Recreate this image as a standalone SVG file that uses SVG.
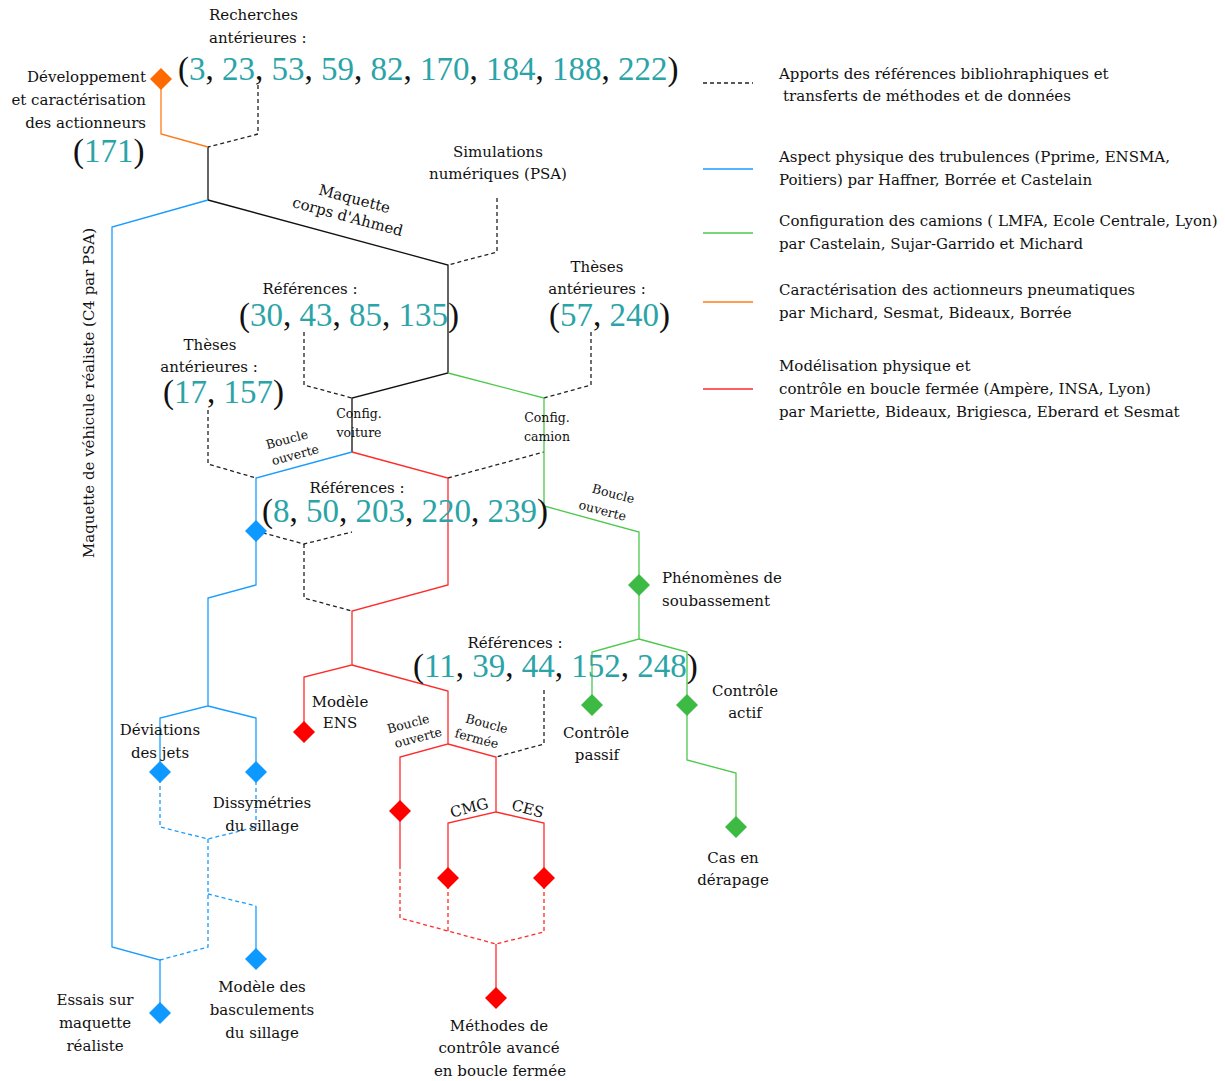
<svg xmlns="http://www.w3.org/2000/svg" width="1225" height="1081" viewBox="0 0 1225 1081">
<style>
.t{font-family:"DejaVu Serif","Liberation Serif",serif;font-size:15px;fill:#111}
.c{text-anchor:middle}
.s{font-size:12.5px}
.n{font-family:"Liberation Serif",serif;font-size:33px;fill:#111}
.n tspan.d{fill:#2ba4a8}
.k{fill:none;stroke:#111;stroke-width:1.3}
.kd{fill:none;stroke:#222;stroke-width:1.3;stroke-dasharray:4 3}
.b{fill:none;stroke:#1a9cff;stroke-width:1.3}
.bd{fill:none;stroke:#1a9cff;stroke-width:1.3;stroke-dasharray:4 3}
.g{fill:none;stroke:#4cc94c;stroke-width:1.3}
.r{fill:none;stroke:#ff2a2a;stroke-width:1.3}
.rd{fill:none;stroke:#ff2a2a;stroke-width:1.3;stroke-dasharray:4 3}
.o{fill:none;stroke:#ff7a1a;stroke-width:1.3}
.dB{fill:#0d99ff}.dG{fill:#3cba44}.dR{fill:#ff0000}.dO{fill:#ff6a00}
</style>
<defs>
<path id="dia" d="M0,-11 L11,0 L0,11 L-11,0 Z"/>
</defs>
<rect width="1225" height="1081" fill="#fff"/>

<g id="connectors">
<path class="k" d="M208,147 V200"/>
<path class="k" d="M208,200 L448,265 V373 L352,398 V452"/>
<path class="o" d="M161,79 V134 L208,147"/>
<path class="b" d="M208,200 L112,227 V947 L160,960 V1013"/>
<path class="b" d="M352,452 L256,478 V585 L208,598 V706 L160,718 V772"/>
<path class="b" d="M208,706 L256,718 V772"/>
<path class="b" d="M256,906 V959"/>
<path class="bd" d="M160,772 V827 L208,839 L256,827 V772"/>
<path class="bd" d="M208,839 V947 L160,960"/>
<path class="bd" d="M208,894 L256,906"/>
<path class="kd" d="M258,85 V134 L208,147"/>
<path class="kd" d="M497,198 V252 L448,265"/>
<path class="kd" d="M304,332 V385 L352,398"/>
<path class="kd" d="M591,332 V385 L544,398"/>
<path class="kd" d="M208,410 V464 L256,478"/>
<path class="kd" d="M448,478 L544,452"/>
<path class="kd" d="M256,531 L304,544 L352,532"/>
<path class="kd" d="M304,544 V598 L352,611"/>
<path class="kd" d="M544,690 V744 L496,757"/>
<path class="g" d="M448,373 L544,398 V506 L639,532 V585"/>
<path class="g" d="M639,585 V639 L592,652 V705"/>
<path class="g" d="M639,639 L687,652 V760 L736,773 V827"/>
<path class="r" d="M352,452 L448,478 V585 L352,611 V665 L304,677 V732"/>
<path class="r" d="M352,665 L448,691 V744 L400,757 V865"/>
<path class="r" d="M448,744 L496,757 V812 L448,823 V878"/>
<path class="r" d="M496,812 L544,823 V878"/>
<path class="r" d="M496,944 V998"/>
<path class="rd" d="M400,865 V918 L496,944 L544,932 V878"/>
<path class="rd" d="M448,878 V931"/>
</g>

<g id="edge-labels">
<g transform="rotate(15 350 208)"><text class="t c" x="352" y="203" font-size="15.5">Maquette</text><text class="t c" x="350" y="222" font-size="15.5">corps d'Ahmed</text></g>
<text class="t c s" x="359" y="418" font-size="13">Config.</text><text class="t c s" x="359" y="437" font-size="13">voiture</text>
<text class="t c s" x="547" y="422" font-size="13">Config.</text><text class="t c s" x="547" y="441" font-size="13">camion</text>
<g transform="rotate(-15 291 447)"><text class="t c s" x="289" y="443">Boucle</text><text class="t c s" x="293" y="460">ouverte</text></g>
<g transform="rotate(15 608 502)"><text class="t c s" x="611" y="497">Boucle</text><text class="t c s" x="605" y="516">ouverte</text></g>
<g transform="rotate(-15 413 730)"><text class="t c s" x="410" y="727">Boucle</text><text class="t c s" x="416" y="743">ouverte</text></g>
<g transform="rotate(15 482 730)"><text class="t c s" x="485" y="727">Boucle</text><text class="t c s" x="479" y="744">fermée</text></g>
<text class="t c" x="469" y="813" font-size="16" transform="rotate(-15 469 807)">CMG</text>
<text class="t c" x="528" y="814" font-size="16" transform="rotate(15 528 808)">CES</text>
</g>

<g id="n-recherches">
<text class="t" x="209" y="20">Recherches</text>
<text class="t" x="209" y="43">antérieures :</text>
<text class="n" x="178" y="80">(<tspan class="d">3</tspan>, <tspan class="d">23</tspan>, <tspan class="d">53</tspan>, <tspan class="d">59</tspan>, <tspan class="d">82</tspan>, <tspan class="d">170</tspan>, <tspan class="d">184</tspan>, <tspan class="d">188</tspan>, <tspan class="d">222</tspan>)</text>
</g>
<g id="n-actionneurs">
<use href="#dia" x="161" y="79" class="dO"/>
<text class="t" x="146" y="82" text-anchor="end">Développement</text>
<text class="t" x="146" y="105" text-anchor="end">et caractérisation</text>
<text class="t" x="146" y="128" text-anchor="end">des actionneurs</text>
<text class="n" x="73" y="162">(<tspan class="d">171</tspan>)</text>
</g>
<g id="n-simulations">
<text class="t c" x="498" y="157">Simulations</text>
<text class="t c" x="498" y="179">numériques (PSA)</text>
</g>
<g id="n-maquette-vehicule">
<text class="t c" x="0" y="0" transform="translate(94 393) rotate(-90)" textLength="330" lengthAdjust="spacingAndGlyphs">Maquette de véhicule réaliste (C4 par PSA)</text>
</g>
<g id="n-ref1">
<text class="t c" x="310" y="294">Références :</text>
<text class="n" x="239" y="326">(<tspan class="d">30</tspan>, <tspan class="d">43</tspan>, <tspan class="d">85</tspan>, <tspan class="d">135</tspan>)</text>
</g>
<g id="n-theses2">
<text class="t c" x="597" y="272">Thèses</text>
<text class="t c" x="597" y="294">antérieures :</text>
<text class="n" x="549" y="326">(<tspan class="d">57</tspan>, <tspan class="d">240</tspan>)</text>
</g>
<g id="n-theses1">
<text class="t c" x="210" y="350">Thèses</text>
<text class="t c" x="209" y="372">antérieures :</text>
<text class="n" x="163" y="403">(<tspan class="d">17</tspan>, <tspan class="d">157</tspan>)</text>
</g>
<g id="n-ref2">
<text class="t c" x="357" y="493">Références :</text>
<text class="n" x="262" y="522">(<tspan class="d">8</tspan>, <tspan class="d">50</tspan>, <tspan class="d">203</tspan>, <tspan class="d">220</tspan>, <tspan class="d">239</tspan>)</text>
</g>
<g id="n-ref3">
<text class="t c" x="515" y="648">Références :</text>
<text class="n" x="413" y="677">(<tspan class="d">11</tspan>, <tspan class="d">39</tspan>, <tspan class="d">44</tspan>, <tspan class="d">152</tspan>, <tspan class="d">248</tspan>)</text>
</g>
<g id="n-blue-top">
<use href="#dia" x="256" y="531" class="dB"/>
</g>
<g id="n-deviations">
<use href="#dia" x="160" y="772" class="dB"/>
<text class="t c" x="160" y="735">Déviations</text>
<text class="t c" x="160" y="758">des jets</text>
</g>
<g id="n-dissymetries">
<use href="#dia" x="256" y="772" class="dB"/>
<text class="t c" x="262" y="808">Dissymétries</text>
<text class="t c" x="262" y="831">du sillage</text>
</g>
<g id="n-basculements">
<use href="#dia" x="256" y="959" class="dB"/>
<text class="t c" x="262" y="992">Modèle des</text>
<text class="t c" x="262" y="1015">basculements</text>
<text class="t c" x="262" y="1038">du sillage</text>
</g>
<g id="n-essais">
<use href="#dia" x="160" y="1013" class="dB"/>
<text class="t c" x="95" y="1005">Essais sur</text>
<text class="t c" x="95" y="1028">maquette</text>
<text class="t c" x="95" y="1051">réaliste</text>
</g>
<g id="n-ens">
<use href="#dia" x="304" y="732" class="dR"/>
<text class="t c" x="340" y="707">Modèle</text>
<text class="t c" x="340" y="728">ENS</text>
</g>
<g id="n-boucle-ouverte-r">
<use href="#dia" x="400" y="811" class="dR"/>
</g>
<g id="n-cmg">
<use href="#dia" x="448" y="878" class="dR"/>
</g>
<g id="n-ces">
<use href="#dia" x="544" y="878" class="dR"/>
</g>
<g id="n-methodes">
<use href="#dia" x="496" y="998" class="dR"/>
<text class="t c" x="499" y="1031">Méthodes de</text>
<text class="t c" x="499" y="1053">contrôle avancé</text>
<text class="t c" x="500" y="1076">en boucle fermée</text>
</g>
<g id="n-phenomenes">
<use href="#dia" x="639" y="585" class="dG"/>
<text class="t" x="662" y="583">Phénomènes de</text>
<text class="t" x="662" y="606">soubassement</text>
</g>
<g id="n-passif">
<use href="#dia" x="592" y="705" class="dG"/>
<text class="t c" x="596" y="738">Contrôle</text>
<text class="t c" x="597" y="760">passif</text>
</g>
<g id="n-actif">
<use href="#dia" x="687" y="705" class="dG"/>
<text class="t c" x="745" y="696">Contrôle</text>
<text class="t c" x="745" y="718">actif</text>
</g>
<g id="n-derapage">
<use href="#dia" x="736" y="827" class="dG"/>
<text class="t c" x="733" y="863">Cas en</text>
<text class="t c" x="733" y="885">dérapage</text>
</g>

<g id="legend">
<path class="kd" d="M703,83 H753"/>
<text class="t" x="779" y="79">Apports des références bibliohraphiques et</text>
<text class="t" x="783" y="101">transferts de méthodes et de données</text>
<path class="b" d="M703,169 H753"/>
<text class="t" x="779" y="162">Aspect physique des trubulences (Pprime, ENSMA,</text>
<text class="t" x="779" y="185">Poitiers) par Haffner, Borrée et Castelain</text>
<path class="g" d="M703,233 H753"/>
<text class="t" x="779" y="226">Configuration des camions ( LMFA, Ecole Centrale, Lyon)</text>
<text class="t" x="779" y="249">par Castelain, Sujar-Garrido et Michard</text>
<path class="o" d="M703,302 H753"/>
<text class="t" x="779" y="295">Caractérisation des actionneurs pneumatiques</text>
<text class="t" x="779" y="318">par Michard, Sesmat, Bideaux, Borrée</text>
<path class="r" d="M703,389 H753"/>
<text class="t" x="779" y="371">Modélisation physique et</text>
<text class="t" x="779" y="394">contrôle en boucle fermée (Ampère, INSA, Lyon)</text>
<text class="t" x="779" y="417">par Mariette, Bideaux, Brigiesca, Eberard et Sesmat</text>
</g>
</svg>
